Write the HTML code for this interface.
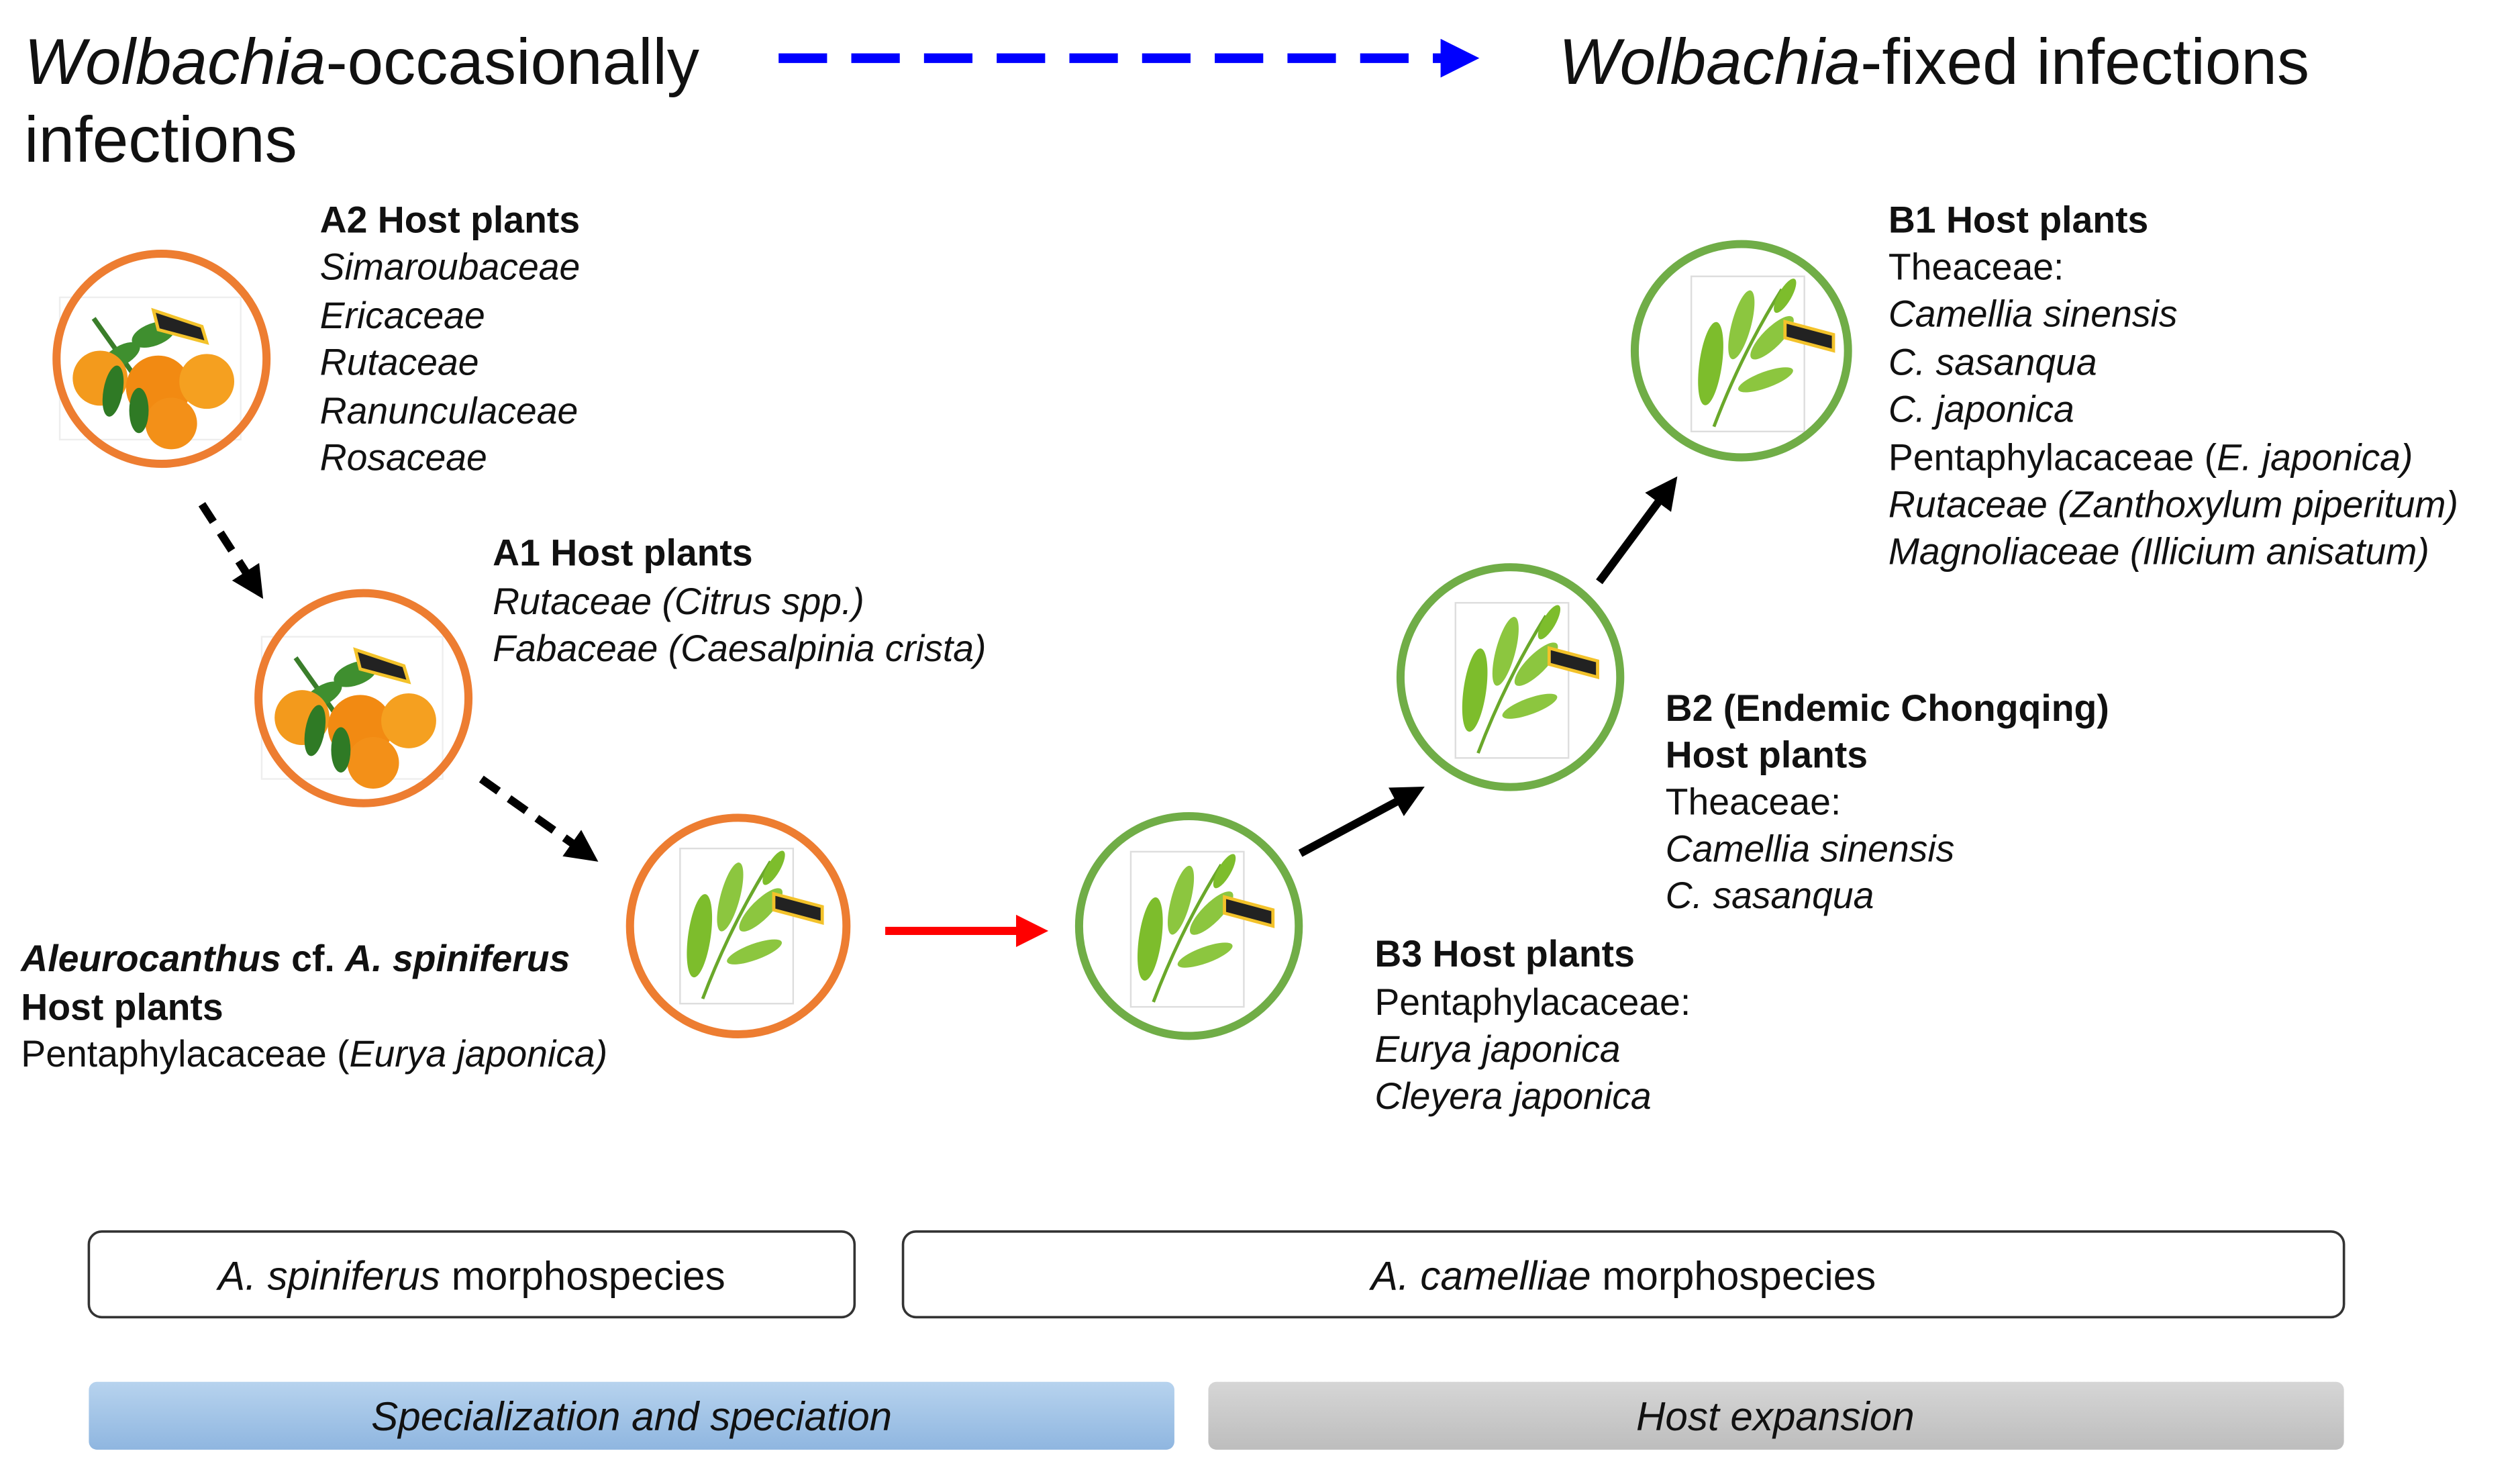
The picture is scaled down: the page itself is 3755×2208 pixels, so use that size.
<!DOCTYPE html>
<html><head><meta charset="utf-8"><style>
html,body{margin:0;padding:0;background:#fff}
svg{display:block}
text{font-family:"Liberation Sans",Arial,sans-serif;fill:#111}
.b{font-weight:bold}.i{font-style:italic}
.t{font-size:23px}
</style></head><body>
<svg width="3755" height="2208" viewBox="0 0 1560 917" preserveAspectRatio="none" xmlns="http://www.w3.org/2000/svg">
<defs>
<marker id="ab" markerWidth="4" markerHeight="4" refX="2.2" refY="2" orient="auto" markerUnits="strokeWidth"><path d="M0,0 L4,2 L0,4 z" fill="#000"/></marker>
<marker id="ar" markerWidth="4" markerHeight="4" refX="2.2" refY="2" orient="auto" markerUnits="strokeWidth"><path d="M0,0 L4,2 L0,4 z" fill="#f00"/></marker>
<marker id="abl" markerWidth="4" markerHeight="4" refX="2.2" refY="2" orient="auto" markerUnits="strokeWidth"><path d="M0,0 L4,2 L0,4 z" fill="#00f"/></marker>
<linearGradient id="gb" x1="0" y1="0" x2="0" y2="1"><stop offset="0" stop-color="#b7d3ee"/><stop offset="1" stop-color="#8fb6e0"/></linearGradient>
<linearGradient id="gg" x1="0" y1="0" x2="0" y2="1"><stop offset="0" stop-color="#d6d6d6"/><stop offset="1" stop-color="#bdbdbd"/></linearGradient>
<g id="orange">
<rect x="-63" y="-38" width="112" height="88" fill="#fff" stroke="#eee"/>
<path d="M-42,-25 L-10,20" stroke="#3a7d2a" stroke-width="3"/>
<ellipse cx="-25" cy="-2" rx="13" ry="6" fill="#3f8f2f" transform="rotate(-30 -25 -2)"/>
<ellipse cx="-5" cy="-15" rx="14" ry="7" fill="#3f8f2f" transform="rotate(-20 -5 -15)"/>
<circle cx="-38" cy="12" r="17" fill="#f39a1c"/>
<circle cx="-2" cy="18" r="20" fill="#f28a12"/>
<circle cx="28" cy="14" r="17" fill="#f5a020"/>
<circle cx="6" cy="40" r="16" fill="#f39018"/>
<ellipse cx="-30" cy="20" rx="6" ry="16" fill="#2f7a25" transform="rotate(10 -30 20)"/>
<ellipse cx="-14" cy="32" rx="6" ry="14" fill="#2f7a25"/>
<path d="M-5,-30 L25,-20 L28,-10 L-2,-18 z" fill="#222" stroke="#f3c22a" stroke-width="2"/>
</g>
<g id="leaf">
<rect x="-36" y="-48" width="70" height="96" fill="#fff" stroke="#ddd"/>
<path d="M-22,45 Q-5,0 20,-40" stroke="#6aa82a" stroke-width="2" fill="none"/>
<ellipse cx="-24" cy="6" rx="7" ry="26" fill="#7dbd2c" transform="rotate(8 -24 6)"/>
<ellipse cx="-5" cy="-18" rx="6" ry="22" fill="#8cc63f" transform="rotate(15 -5 -18)"/>
<ellipse cx="14" cy="-10" rx="6" ry="18" fill="#8cc63f" transform="rotate(45 14 -10)"/>
<ellipse cx="10" cy="16" rx="5" ry="18" fill="#8cc63f" transform="rotate(70 10 16)"/>
<ellipse cx="22" cy="-36" rx="4" ry="12" fill="#7dbd2c" transform="rotate(30 22 -36)"/>
<path d="M22,-20 L52,-12 L52,-2 L22,-10 z" fill="#222" stroke="#f3c22a" stroke-width="2"/>
</g>
</defs>

<!-- titles -->
<text x="15" y="52" font-size="40"><tspan class="i">Wolbachia</tspan>-occasionally</text>
<text x="15" y="100" font-size="40">infections</text>
<text x="965" y="52" font-size="40"><tspan class="i">Wolbachia</tspan>-fixed infections</text>
<line x1="482" y1="36" x2="905" y2="36" stroke="#00f" stroke-width="6" stroke-dasharray="30,15" marker-end="url(#abl)"/>

<!-- circles -->
<use href="#orange" x="100" y="222"/>
<circle cx="100" cy="222" r="65" fill="none" stroke="#ed7d31" stroke-width="5"/>
<use href="#orange" x="225" y="432"/>
<circle cx="225" cy="432" r="65" fill="none" stroke="#ed7d31" stroke-width="5"/>
<use href="#leaf" x="457" y="573"/>
<circle cx="457" cy="573" r="67" fill="none" stroke="#ed7d31" stroke-width="5"/>
<use href="#leaf" x="736" y="575"/>
<circle cx="736" cy="573" r="68" fill="none" stroke="#70ad47" stroke-width="5"/>
<use href="#leaf" x="937" y="421"/>
<circle cx="935" cy="419" r="68" fill="none" stroke="#70ad47" stroke-width="5"/>
<use href="#leaf" x="1083" y="219"/>
<circle cx="1078" cy="217" r="66" fill="none" stroke="#70ad47" stroke-width="5"/>

<!-- arrows -->
<line x1="125" y1="312" x2="158" y2="363" stroke="#000" stroke-width="5" stroke-dasharray="13,8" marker-end="url(#ab)"/>
<line x1="298" y1="482" x2="363" y2="528" stroke="#000" stroke-width="5" stroke-dasharray="13,8" marker-end="url(#ab)"/>
<line x1="548" y1="576" x2="640" y2="576" stroke="#f00" stroke-width="5" marker-end="url(#ar)"/>
<line x1="805" y1="528" x2="874" y2="491" stroke="#000" stroke-width="5" marker-end="url(#ab)"/>
<line x1="990" y1="360" x2="1033" y2="302" stroke="#000" stroke-width="5" marker-end="url(#ab)"/>

<!-- labels -->
<g class="t">
<text x="198" y="144" class="b">A2 Host plants</text>
<text x="198" y="173" class="i">Simaroubaceae</text>
<text x="198" y="203" class="i">Ericaceae</text>
<text x="198" y="232" class="i">Rutaceae</text>
<text x="198" y="262" class="i">Ranunculaceae</text>
<text x="198" y="291" class="i">Rosaceae</text>

<text x="305" y="350" class="b">A1 Host plants</text>
<text x="305" y="380" class="i">Rutaceae (Citrus spp.)</text>
<text x="305" y="409" class="i">Fabaceae (Caesalpinia crista)</text>

<text x="13" y="601" class="b"><tspan class="i">Aleurocanthus</tspan> cf. <tspan class="i">A. spiniferus</tspan></text>
<text x="13" y="631" class="b">Host plants</text>
<text x="13" y="660">Pentaphylacaceae (<tspan class="i">Eurya japonica)</tspan></text>

<text x="851" y="598" class="b">B3 Host plants</text>
<text x="851" y="628">Pentaphylacaceae:</text>
<text x="851" y="657" class="i">Eurya japonica</text>
<text x="851" y="686" class="i">Cleyera japonica</text>

<text x="1031" y="446" class="b">B2 (Endemic Chongqing)</text>
<text x="1031" y="475" class="b">Host plants</text>
<text x="1031" y="504">Theaceae:</text>
<text x="1031" y="533" class="i">Camellia sinensis</text>
<text x="1031" y="562" class="i">C. sasanqua</text>

<text x="1169" y="144" class="b">B1 Host plants</text>
<text x="1169" y="173">Theaceae:</text>
<text x="1169" y="202" class="i">Camellia sinensis</text>
<text x="1169" y="232" class="i">C. sasanqua</text>
<text x="1169" y="261" class="i">C. japonica</text>
<text x="1169" y="291">Pentaphylacaceae (<tspan class="i">E. japonica)</tspan></text>
<text x="1169" y="320" class="i">Rutaceae (Zanthoxylum piperitum)</text>
<text x="1169" y="349" class="i">Magnoliaceae (Illicium anisatum)</text>
</g>

<!-- boxes -->
<rect x="55" y="762" width="474" height="53" rx="8" fill="#fff" stroke="#333" stroke-width="1.5"/>
<text x="292" y="798" font-size="25" text-anchor="middle"><tspan class="i">A. spiniferus</tspan> morphospecies</text>
<rect x="559" y="762" width="892" height="53" rx="8" fill="#fff" stroke="#333" stroke-width="1.5"/>
<text x="1005" y="798" font-size="25" text-anchor="middle"><tspan class="i">A. camelliae</tspan> morphospecies</text>

<rect x="55" y="855" width="672" height="42" rx="5" fill="url(#gb)"/>
<text x="391" y="885" font-size="25" text-anchor="middle" class="i">Specialization and speciation</text>
<rect x="748" y="855" width="703" height="42" rx="5" fill="url(#gg)"/>
<text x="1099" y="885" font-size="25" text-anchor="middle" class="i">Host expansion</text>
</svg>
</body></html>
